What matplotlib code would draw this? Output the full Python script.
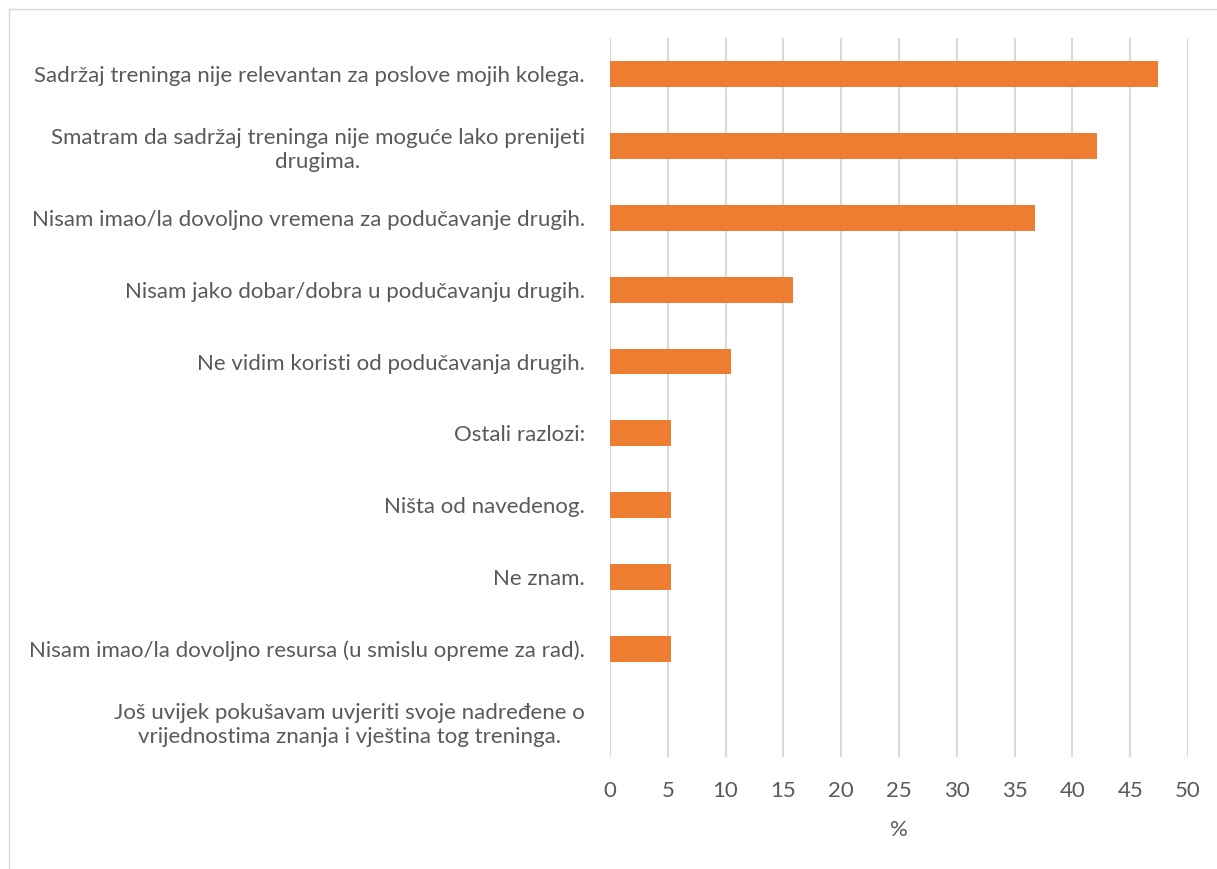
import matplotlib.pyplot as plt
from matplotlib.lines import Line2D

razlozi = [
    "Sadržaj treninga nije relevantan za poslove mojih kolega.",
    "Smatram da sadržaj treninga nije moguće lako prenijeti\ndrugima.",
    "Nisam imao/la dovoljno vremena za podučavanje drugih.",
    "Nisam jako dobar/dobra u podučavanju drugih.",
    "Ne vidim koristi od podučavanja drugih.",
    "Ostali razlozi:",
    "Ništa od navedenog.",
    "Ne znam.",
    "Nisam imao/la dovoljno resursa (u smislu opreme za rad).",
    "Još uvijek pokušavam uvjeriti svoje nadređene o\nvrijednostima znanja i vještina tog treninga.",
]
postotak = [47.4, 42.1, 36.8, 15.8, 10.5, 5.3, 5.3, 5.3, 5.3, 0.0]
x_ticks = list(range(0, 55, 5))

plt.rcParams['font.family'] = ['Lato', 'DejaVu Sans']
siva = '#595959'
vel = 16

fig = plt.figure(figsize=(12.17, 8.69), dpi=100)
ax = fig.add_axes([0.5012, 0.1289, 0.475, 0.8274])

y = list(range(len(razlozi)))
ax.barh(y, postotak, height=0.36, color='#ED7D31', zorder=3)
ax.set_ylim(len(razlozi) - 0.5, -0.5)
ax.set_xlim(0, 50)
ax.set_xticks(x_ticks)
ax.set_yticks(y)
ax.set_yticklabels(razlozi, multialignment='center', linespacing=1.25)

ax.grid(axis='x', color='#d9d9d9', linewidth=1.5, zorder=0)
for s in ax.spines.values():
    s.set_visible(False)
ax.tick_params(axis='both', length=0, labelsize=vel, colors=siva)
ax.tick_params(axis='x', pad=17)
ax.tick_params(axis='y', pad=18)
ax.set_xlabel('%', fontsize=vel, color=siva, labelpad=14)

# okvir grafikona
fig.add_artist(Line2D([9 / 1217, 1], [1 - 9 / 869] * 2, color='#d9d9d9', lw=1))
fig.add_artist(Line2D([9 / 1217] * 2, [0, 1 - 9 / 869], color='#d9d9d9', lw=1))

plt.savefig('out.png', dpi=100)
